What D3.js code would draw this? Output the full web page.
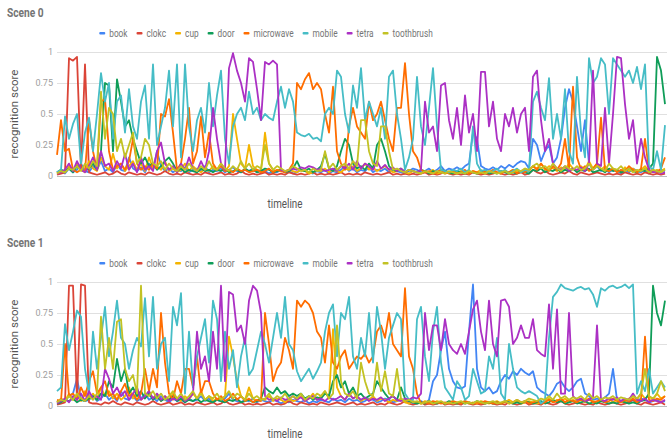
<!DOCTYPE html>
<html>
<head>
<meta charset="utf-8">
<script src="https://cdn.jsdelivr.net/npm/d3@7/dist/d3.min.js"></script>
<style>
  body { margin: 0; background: #fff; }
  text { font-family: Roboto, "Noto Sans", sans-serif; }
</style>
</head>
<body>
<div class="chart"></div>
<script>
// legend names and y ticks
var names = ["book", "clokc", "cup", "door", "microwave", "mobile", "tetra", "toothbrush"];
var yTicks = [0, 0.25, 0.5, 0.75, 1];
var sceneTitles = ["Scene 0", "Scene 1"];

// ---- Scene 0 ----
var s0Book = [0.03,0.04,0.02,0.06,0.03,0.05,0.1,0.04,0.03,0.08,
  0.05,0.12,0.04,0.06,0.03,0.09,0.05,0.04,0.15,0.06,
  0.04,0.07,0.03,0.1,0.05,0.2,0.08,0.04,0.06,0.03,
  0.05,0.04,0.07,0.03,0.05,0.06,0.04,0.08,0.03,0.05,
  0.04,0.06,0.03,0.05,0.07,0.04,0.03,0.05,0.04,0.06,
  0.03,0.05,0.04,0.02,0.04,0.03,0.05,0.03,0.04,0.02,
  0.03,0.05,0.04,0.03,0.02,0.04,0.03,0.05,0.02,0.04,
  0.03,0.05,0.08,0.04,0.06,0.03,0.05,0.04,0.07,0.03,
  0.05,0.04,0.06,0.03,0.05,0.04,0.03,0.02,0.04,0.06,
  0.05,0.03,0.04,0.06,0.03,0.05,0.08,0.04,0.06,0.05,
  0.07,0.05,0.08,0.1,0.35,0.3,0.08,0.06,0.05,0.07,
  0.05,0.08,0.06,0.09,0.07,0.1,0.12,0.11,0.06,0.3,
  0.25,0.12,0.2,0.25,0.1,0.15,0.3,0.55,0.7,0.6,
  0.4,0.2,0.45,0.1,0.05,0.08,0.04,0.06,0.03,0.05,
  0.04,0.02,0.05,0.03,0.06,0.04,0.03,0.05,0.02,0.04,
  0.03,0.05,0.04];
var s0Clokc = [0.01,0.02,0.03,0.95,0.93,0.96,0.05,0.9,0.03,0.02,
  0.01,0.02,0.03,0.01,0.02,0.04,0.02,0.01,0.03,0.02,
  0.01,0.02,0.01,0.03,0.02,0.01,0.02,0.04,0.02,0.01,
  0.02,0.01,0.03,0.02,0.01,0.02,0.01,0.03,0.02,0.01,
  0.02,0.03,0.01,0.02,0.01,0.02,0.04,0.02,0.01,0.02,
  0.01,0.02,0.03,0.01,0.02,0.01,0.02,0.01,0.03,0.02,
  0.01,0.02,0.01,0.02,0.03,0.01,0.02,0.01,0.02,0.01,
  0.02,0.03,0.01,0.02,0.01,0.02,0.01,0.03,0.02,0.01,
  0.02,0.01,0.02,0.03,0.01,0.02,0.01,0.02,0.01,0.02,
  0.01,0.02,0.03,0.01,0.02,0.01,0.02,0.04,0.02,0.01,
  0.02,0.01,0.02,0.01,0.03,0.02,0.01,0.02,0.01,0.02,
  0.03,0.02,0.01,0.02,0.01,0.02,0.03,0.01,0.02,0.05,
  0.03,0.02,0.04,0.02,0.01,0.02,0.03,0.02,0.04,0.02,
  0.01,0.03,0.02,0.01,0.02,0.03,0.02,0.01,0.02,0.01,
  0.02,0.01,0.03,0.02,0.01,0.02,0.01,0.03,0.02,0.01,
  0.02,0.01,0.02];
var s0Cup = [0.02,0.05,0.03,0.08,0.04,0.1,0.05,0.03,0.12,0.06,
  0.04,0.15,0.08,0.05,0.18,0.06,0.1,0.04,0.08,0.12,
  0.05,0.1,0.04,0.15,0.06,0.08,0.05,0.12,0.04,0.06,
  0.03,0.05,0.1,0.04,0.08,0.05,0.03,0.06,0.04,0.08,
  0.05,0.1,0.04,0.08,0.5,0.3,0.1,0.06,0.25,0.08,
  0.05,0.04,0.35,0.1,0.05,0.04,0.06,0.03,0.05,0.04,
  0.03,0.05,0.04,0.02,0.03,0.05,0.04,0.06,0.03,0.05,
  0.04,0.03,0.06,0.05,0.08,0.04,0.06,0.1,0.05,0.07,
  0.04,0.06,0.08,0.05,0.03,0.04,0.06,0.03,0.02,0.04,
  0.03,0.02,0.04,0.03,0.05,0.02,0.03,0.04,0.02,0.03,
  0.02,0.04,0.03,0.02,0.04,0.03,0.05,0.02,0.03,0.04,
  0.03,0.02,0.04,0.03,0.05,0.04,0.03,0.06,0.04,0.08,
  0.06,0.1,0.05,0.08,0.06,0.04,0.07,0.05,0.1,0.06,
  0.04,0.08,0.05,0.12,0.06,0.1,0.05,0.08,0.04,0.06,
  0.05,0.03,0.07,0.04,0.06,0.03,0.05,0.08,0.04,0.03,
  0.05,0.04,0.06];
var s0Door = [0.03,0.05,0.04,0.06,0.03,0.08,0.05,0.04,0.06,0.1,
  0.05,0.2,0.75,0.73,0.2,0.78,0.6,0.4,0.45,0.3,
  0.2,0.1,0.15,0.08,0.1,0.05,0.08,0.12,0.15,0.1,
  0.04,0.06,0.03,0.05,0.04,0.03,0.06,0.04,0.05,0.03,
  0.05,0.04,0.06,0.03,0.04,0.05,0.03,0.06,0.04,0.05,
  0.03,0.04,0.06,0.05,0.03,0.04,0.05,0.03,0.04,0.06,
  0.12,0.05,0.04,0.06,0.03,0.05,0.08,0.18,0.06,0.04,
  0.08,0.2,0.3,0.25,0.1,0.06,0.08,0.05,0.1,0.06,
  0.25,0.3,0.2,0.08,0.05,0.04,0.06,0.03,0.05,0.04,
  0.03,0.05,0.04,0.02,0.04,0.03,0.05,0.04,0.03,0.02,
  0.04,0.03,0.02,0.04,0.03,0.02,0.03,0.04,0.02,0.03,
  0.02,0.04,0.03,0.02,0.03,0.02,0.04,0.03,0.02,0.05,
  0.04,0.06,0.03,0.05,0.04,0.06,0.03,0.05,0.04,0.06,
  0.03,0.05,0.04,0.06,0.03,0.04,0.05,0.03,0.06,0.04,
  0.05,0.03,0.04,0.06,0.04,0.03,0.05,0.04,0.06,0.1,
  0.96,0.85,0.58];
var s0Microwave = [0.17,0.45,0.2,0.22,0.05,0.03,0.05,0.04,0.45,0.2,
  0.05,0.6,0.62,0.2,0.05,0.08,0.1,0.05,0.12,0.3,
  0.1,0.05,0.08,0.05,0.1,0.06,0.5,0.48,0.62,0.35,
  0.05,0.1,0.3,0.55,0.1,0.2,0.48,0.15,0.35,0.1,
  0.05,0.08,0.04,0.05,0.03,0.06,0.04,0.05,0.03,0.04,
  0.05,0.03,0.04,0.06,0.03,0.05,0.04,0.03,0.05,0.1,
  0.75,0.7,0.78,0.83,0.7,0.75,0.7,0.5,0.35,0.72,
  0.2,0.1,0.05,0.4,0.55,0.4,0.35,0.3,0.6,0.45,
  0.5,0.6,0.45,0.3,0.2,0.55,0.55,0.91,0.5,0.2,
  0.15,0.05,0.03,0.04,0.02,0.03,0.05,0.02,0.03,0.04,
  0.02,0.03,0.05,0.02,0.04,0.03,0.02,0.04,0.03,0.05,
  0.03,0.02,0.04,0.03,0.05,0.02,0.04,0.03,0.05,0.08,
  0.05,0.1,0.06,0.04,0.08,0.05,0.1,0.3,0.06,0.72,
  0.15,0.05,0.08,0.04,0.06,0.1,0.47,0.05,0.04,0.06,
  0.03,0.05,0.04,0.08,0.05,0.03,0.06,0.3,0.04,0.05,
  0.03,0.06,0.15];
var s0Mobile = [0.03,0.05,0.48,0.3,0.42,0.5,0.1,0.35,0.47,0.2,
  0.5,0.83,0.6,0.75,0.3,0.6,0.65,0.35,0.7,0.4,
  0.3,0.6,0.73,0.3,0.9,0.25,0.4,0.55,0.85,0.4,
  0.9,0.15,0.9,0.4,0.2,0.45,0.55,0.35,0.75,0.4,
  0.65,0.85,0.3,0.1,0.4,0.5,0.55,0.45,0.68,0.5,
  0.55,0.45,0.5,0.47,0.45,0.6,0.72,0.55,0.7,0.6,
  0.35,0.33,0.32,0.34,0.3,0.31,0.28,0.5,0.55,0.5,
  0.85,0.8,0.5,0.35,0.73,0.55,0.87,0.45,0.6,0.5,
  0.4,0.55,0.3,0.8,0.85,0.5,0.3,0.05,0.15,0.3,
  0.8,0.4,0.25,0.55,0.87,0.4,0.05,0.04,0.03,0.05,
  0.04,0.06,0.03,0.05,0.4,0.1,0.04,0.05,0.03,0.04,
  0.06,0.03,0.05,0.02,0.04,0.06,0.03,0.05,0.04,0.6,
  0.68,0.55,0.45,0.79,0.3,0.5,0.3,0.7,0.2,0.1,
  0.8,0.35,0.15,0.95,0.75,0.8,0.95,0.9,0.5,0.95,
  0.9,0.85,0.8,0.85,0.75,0.88,0.7,0.9,0.08,0.05,
  0.2,0.05,0.41];
var s0Tetra = [0.02,0.03,0.05,0.1,0.04,0.12,0.05,0.03,0.08,0.15,
  0.05,0.2,0.08,0.1,0.04,0.12,0.06,0.18,0.05,0.1,
  0.03,0.15,0.05,0.08,0.04,0.2,0.27,0.1,0.05,0.08,
  0.03,0.1,0.05,0.15,0.06,0.04,0.12,0.05,0.2,0.55,
  0.3,0.1,0.05,0.87,0.99,0.85,0.75,0.6,0.95,0.92,
  0.7,0.45,0.92,0.9,0.93,0.9,0.05,0.04,0.05,0.06,
  0.05,0.07,0.06,0.08,0.07,0.05,0.06,0.04,0.05,0.06,
  0.04,0.08,0.06,0.1,0.05,0.12,0.06,0.1,0.08,0.05,
  0.12,0.06,0.09,0.05,0.07,0.04,0.06,0.03,0.05,0.04,
  0.03,0.05,0.6,0.35,0.4,0.2,0.73,0.75,0.45,0.3,
  0.55,0.25,0.65,0.35,0.5,0.2,0.84,0.84,0.4,0.6,
  0.3,0.2,0.5,0.4,0.55,0.35,0.5,0.55,0.2,0.8,
  0.85,0.45,0.2,0.3,0.1,0.06,0.05,0.08,0.04,0.06,
  0.05,0.07,0.04,0.1,0.85,0.1,0.08,0.55,0.1,0.5,
  0.96,0.95,0.58,0.3,0.45,0.1,0.3,0.15,0.05,0.03,
  0.04,0.02,0.03];
var s0Toothbrush = [0.02,0.04,0.03,0.06,0.05,0.08,0.04,0.1,0.06,0.12,
  0.08,0.68,0.3,0.55,0.5,0.2,0.3,0.15,0.25,0.35,
  0.1,0.15,0.3,0.25,0.1,0.08,0.12,0.05,0.1,0.06,
  0.04,0.08,0.05,0.1,0.06,0.04,0.08,0.05,0.12,0.06,
  0.05,0.1,0.06,0.04,0.08,0.05,0.12,0.06,0.1,0.05,
  0.08,0.06,0.25,0.1,0.05,0.08,0.06,0.04,0.05,0.08,
  0.06,0.04,0.05,0.03,0.06,0.04,0.05,0.2,0.06,0.1,
  0.05,0.08,0.1,0.06,0.12,0.08,0.45,0.45,0.2,0.1,
  0.08,0.4,0.4,0.2,0.05,0.06,0.04,0.03,0.05,0.04,
  0.03,0.02,0.04,0.03,0.02,0.04,0.03,0.02,0.04,0.03,
  0.02,0.03,0.02,0.04,0.03,0.02,0.03,0.02,0.04,0.03,
  0.02,0.03,0.04,0.02,0.03,0.05,0.04,0.06,0.05,0.08,
  0.1,0.06,0.08,0.05,0.1,0.06,0.04,0.08,0.06,0.05,
  0.08,0.05,0.06,0.1,0.05,0.08,0.06,0.04,0.1,0.06,
  0.05,0.08,0.04,0.06,0.03,0.05,0.04,0.06,0.03,0.05,
  0.04,0.03,0.05];

// ---- Scene 1 ----
var s1Book = [0.03,0.05,0.04,0.08,0.1,0.22,0.06,0.04,0.05,0.08,
  0.04,0.06,0.1,0.05,0.08,0.04,0.12,0.06,0.05,0.08,
  0.04,0.06,0.1,0.05,0.07,0.04,0.08,0.05,0.03,0.06,
  0.04,0.05,0.03,0.06,0.04,0.05,0.08,0.04,0.06,0.03,
  0.05,0.04,0.06,0.1,0.05,0.04,0.03,0.05,0.04,0.06,
  0.03,0.05,0.04,0.03,0.05,0.04,0.02,0.04,0.03,0.05,
  0.04,0.03,0.05,0.02,0.04,0.03,0.05,0.04,0.03,0.06,
  0.04,0.05,0.03,0.06,0.04,0.05,0.03,0.04,0.06,0.05,
  0.03,0.04,0.06,0.05,0.03,0.04,0.05,0.03,0.04,0.02,
  0.03,0.04,0.02,0.05,0.2,0.25,0.45,0.6,0.3,0.2,
  0.15,0.14,0.16,0.6,0.98,0.3,0.15,0.12,0.15,0.1,
  0.12,0.2,0.25,0.22,0.28,0.25,0.3,0.27,0.25,0.28,
  0.15,0.12,0.1,0.08,0.12,0.18,0.2,0.15,0.12,0.15,
  0.2,0.22,0.1,0.08,0.05,0.06,0.05,0.07,0.1,0.3,
  0.05,0.04,0.06,0.03,0.05,0.04,0.06,0.05,0.03,0.04,
  0.05,0.03,0.04];
var s1Clokc = [0.01,0.02,0.03,0.97,0.97,0.05,0.98,0.97,0.03,0.02,
  0.02,0.01,0.03,0.02,0.04,0.02,0.01,0.03,0.02,0.01,
  0.03,0.02,0.01,0.02,0.04,0.02,0.01,0.02,0.03,0.01,
  0.02,0.03,0.01,0.02,0.01,0.03,0.02,0.01,0.02,0.03,
  0.01,0.02,0.04,0.02,0.01,0.02,0.03,0.01,0.02,0.01,
  0.02,0.01,0.02,0.03,0.01,0.02,0.01,0.02,0.04,0.02,
  0.01,0.03,0.02,0.01,0.02,0.01,0.03,0.02,0.01,0.02,
  0.03,0.02,0.01,0.02,0.03,0.01,0.02,0.01,0.02,0.03,
  0.01,0.02,0.01,0.03,0.02,0.01,0.02,0.04,0.02,0.01,
  0.02,0.03,0.01,0.02,0.01,0.02,0.03,0.01,0.02,0.01,
  0.02,0.01,0.03,0.02,0.01,0.02,0.01,0.02,0.03,0.02,
  0.01,0.02,0.01,0.03,0.02,0.01,0.02,0.03,0.01,0.02,
  0.02,0.01,0.03,0.02,0.01,0.02,0.04,0.02,0.01,0.02,
  0.03,0.02,0.01,0.02,0.01,0.03,0.02,0.01,0.02,0.03,
  0.02,0.01,0.02,0.03,0.05,0.02,0.01,0.03,0.02,0.01,
  0.02,0.03,0.01];
var s1Cup = [0.03,0.06,0.04,0.1,0.05,0.08,0.04,0.12,0.06,0.1,
  0.05,0.15,0.08,0.12,0.06,0.1,0.05,0.08,0.15,0.06,
  0.1,0.05,0.08,0.12,0.06,0.1,0.04,0.08,0.05,0.1,
  0.06,0.04,0.08,0.05,0.1,0.06,0.12,0.05,0.08,0.04,
  0.06,0.05,0.08,0.56,0.4,0.2,0.08,0.05,0.15,0.06,
  0.04,0.06,0.05,0.08,0.04,0.06,0.05,0.03,0.06,0.04,
  0.05,0.08,0.04,0.06,0.1,0.05,0.08,0.12,0.06,0.62,
  0.15,0.08,0.05,0.1,0.06,0.08,0.04,0.06,0.05,0.08,
  0.04,0.06,0.05,0.03,0.05,0.04,0.06,0.03,0.02,0.04,
  0.03,0.02,0.04,0.03,0.02,0.04,0.03,0.02,0.03,0.04,
  0.02,0.03,0.04,0.02,0.03,0.02,0.04,0.03,0.02,0.03,
  0.04,0.02,0.03,0.05,0.03,0.04,0.02,0.03,0.04,0.03,
  0.02,0.03,0.04,0.06,0.03,0.05,0.04,0.06,0.03,0.05,
  0.04,0.06,0.03,0.05,0.04,0.03,0.05,0.04,0.06,0.03,
  0.05,0.04,0.03,0.06,0.08,0.05,0.1,0.06,0.08,0.05,
  0.1,0.06,0.08];
var s1Door = [0.02,0.03,0.05,0.04,0.06,0.03,0.05,0.04,0.06,0.08,
  0.05,0.1,0.08,0.2,0.15,0.38,0.2,0.3,0.1,0.15,
  0.08,0.12,0.06,0.1,0.05,0.08,0.04,0.06,0.05,0.08,
  0.04,0.06,0.03,0.05,0.04,0.06,0.03,0.05,0.04,0.03,
  0.05,0.04,0.03,0.05,0.04,0.06,0.03,0.04,0.05,0.03,
  0.04,0.06,0.15,0.12,0.1,0.15,0.1,0.12,0.08,0.1,
  0.08,0.1,0.06,0.08,0.05,0.07,0.06,0.1,0.08,0.2,
  0.25,0.15,0.2,0.1,0.15,0.08,0.1,0.06,0.08,0.1,
  0.2,0.15,0.1,0.06,0.08,0.05,0.15,0.06,0.04,0.03,
  0.02,0.03,0.02,0.04,0.03,0.02,0.03,0.02,0.04,0.03,
  0.02,0.03,0.02,0.03,0.02,0.04,0.03,0.02,0.03,0.02,
  0.03,0.02,0.04,0.03,0.02,0.03,0.02,0.04,0.03,0.02,
  0.03,0.04,0.02,0.03,0.05,0.03,0.04,0.02,0.03,0.04,
  0.02,0.03,0.04,0.02,0.03,0.02,0.04,0.03,0.02,0.03,
  0.02,0.04,0.03,0.02,0.03,0.02,0.04,0.05,0.1,0.97,
  0.75,0.65,0.85];
var s1Microwave = [0.05,0.04,0.5,0.08,0.1,0.05,0.15,0.08,0.2,0.28,
  0.1,0.15,0.2,0.08,0.1,0.05,0.12,0.18,0.08,0.1,
  0.05,0.1,0.3,0.12,0.3,0.15,0.75,0.35,0.1,0.05,
  0.2,0.1,0.3,0.3,0.15,0.4,0.1,0.2,0.2,0.1,
  0.05,0.08,0.04,0.06,0.1,0.05,0.08,0.04,0.06,0.03,
  0.05,0.04,0.75,0.5,0.2,0.3,0.35,0.55,0.45,0.3,
  0.85,0.8,0.85,0.82,0.75,0.6,0.55,0.35,0.65,0.35,
  0.3,0.4,0.45,0.3,0.35,0.4,0.38,0.42,0.35,0.4,
  0.6,0.65,0.55,0.75,0.5,0.45,0.4,0.95,0.4,0.3,
  0.1,0.02,0.03,0.02,0.04,0.03,0.02,0.03,0.02,0.04,
  0.03,0.02,0.04,0.03,0.02,0.03,0.02,0.04,0.03,0.02,
  0.03,0.02,0.04,0.02,0.03,0.05,0.03,0.04,0.02,0.03,
  0.04,0.02,0.03,0.05,0.03,0.04,0.06,0.03,0.05,0.04,
  0.03,0.05,0.04,0.06,0.03,0.04,0.05,0.03,0.04,0.06,
  0.04,0.03,0.05,0.04,0.06,0.03,0.05,0.56,0.05,0.04,
  0.06,0.05,0.08];
var s1Mobile = [0.12,0.15,0.66,0.45,0.6,0.77,0.72,0.3,0.1,0.6,
  0.3,0.55,0.8,0.4,0.6,0.85,0.55,0.5,0.3,0.45,
  0.55,0.48,0.87,0.4,0.88,0.3,0.5,0.55,0.2,0.8,
  0.65,0.91,0.1,0.6,0.15,0.4,0.55,0.7,0.35,0.85,
  0.7,0.2,0.6,0.3,0.45,0.15,0.4,0.55,0.25,0.3,
  0.45,0.6,0.5,0.35,0.55,0.75,0.55,0.88,0.5,0.45,
  0.28,0.2,0.25,0.3,0.22,0.28,0.35,0.6,0.75,0.82,
  0.4,0.75,0.7,0.88,0.4,0.3,0.55,0.4,0.75,0.35,
  0.8,0.6,0.3,0.55,0.65,0.75,0.7,0.1,0.05,0.05,
  0.7,0.8,0.4,0.2,0.6,0.8,0.35,0.15,0.1,0.05,
  0.2,0.15,0.05,0.08,0.3,0.2,0.1,0.12,0.4,0.3,
  0.55,0.1,0.05,0.5,0.3,0.15,0.12,0.1,0.12,0.1,
  0.08,0.02,0.05,0.55,0.88,0.92,0.98,0.95,0.94,0.93,
  0.95,0.96,0.94,0.95,0.9,0.8,0.95,0.93,0.96,0.97,
  0.95,0.96,0.98,0.95,0.98,0.1,0.2,0.12,0.3,0.1,
  0.15,0.2,0.15];
var s1Tetra = [0.02,0.04,0.06,0.03,0.08,0.05,0.1,0.04,0.12,0.06,
  0.08,0.05,0.3,0.22,0.1,0.15,0.08,0.12,0.05,0.1,
  0.15,0.05,0.08,0.12,0.06,0.1,0.05,0.08,0.04,0.06,
  0.05,0.08,0.04,0.06,0.1,0.6,0.3,0.4,0.2,0.6,
  0.3,0.97,0.2,0.92,0.9,0.6,0.65,0.5,0.85,0.97,
  0.93,0.75,0.08,0.05,0.06,0.04,0.07,0.05,0.06,0.08,
  0.05,0.07,0.04,0.06,0.08,0.05,0.06,0.04,0.07,0.05,
  0.06,0.08,0.05,0.1,0.06,0.08,0.05,0.07,0.04,0.06,
  0.05,0.07,0.04,0.06,0.08,0.05,0.04,0.06,0.05,0.07,
  0.06,0.1,0.75,0.45,0.65,0.65,0.45,0.7,0.5,0.45,
  0.42,0.5,0.42,0.6,0.78,0.85,0.6,0.45,0.85,0.5,
  0.4,0.85,0.86,0.8,0.5,0.55,0.65,0.55,0.55,0.7,
  0.45,0.42,0.4,0.82,0.3,0.78,0.1,0.1,0.75,0.08,
  0.05,0.06,0.04,0.05,0.07,0.65,0.05,0.04,0.06,0.05,
  0.07,0.04,0.06,0.05,0.1,0.05,0.04,0.06,0.03,0.05,
  0.04,0.03,0.05];
var s1Toothbrush = [0.03,0.05,0.04,0.08,0.05,0.1,0.06,0.04,0.08,0.05,
  0.1,0.72,0.3,0.55,0.3,0.68,0.7,0.3,0.2,0.25,
  0.1,0.97,0.1,0.08,0.12,0.06,0.1,0.05,0.08,0.12,
  0.06,0.1,0.05,0.08,0.12,0.06,0.1,0.05,0.08,0.06,
  0.1,0.05,0.08,0.12,0.06,0.1,0.08,0.05,0.1,0.06,
  0.08,0.05,0.06,0.1,0.05,0.08,0.06,0.1,0.05,0.08,
  0.06,0.1,0.05,0.08,0.06,0.1,0.08,0.12,0.06,0.1,
  0.65,0.2,0.1,0.08,0.12,0.06,0.35,0.2,0.1,0.08,
  0.35,0.12,0.28,0.1,0.08,0.3,0.06,0.04,0.05,0.03,
  0.04,0.02,0.03,0.04,0.02,0.03,0.04,0.02,0.03,0.02,
  0.03,0.04,0.02,0.03,0.02,0.04,0.03,0.02,0.03,0.04,
  0.02,0.03,0.04,0.02,0.03,0.05,0.03,0.04,0.06,0.05,
  0.04,0.06,0.05,0.08,0.05,0.1,0.06,0.08,0.05,0.07,
  0.06,0.08,0.05,0.1,0.06,0.08,0.05,0.07,0.06,0.08,
  0.05,0.07,0.06,0.05,0.08,0.06,0.1,0.3,0.08,0.06,
  0.1,0.2,0.12];

var scenes = [
  [s0Book, s0Clokc, s0Cup, s0Door, s0Microwave, s0Mobile, s0Tetra, s0Toothbrush],
  [s1Book, s1Clokc, s1Cup, s1Door, s1Microwave, s1Mobile, s1Tetra, s1Toothbrush]
];

var colors = ["#4285f4", "#db4437", "#f4b400", "#0f9d58", "#ff6d00", "#46bdc6", "#ab30c4", "#c2c224"];

var width = 667,
    height = 441,
    left = 57,
    right = 665,
    panelH = 230;

var svg = d3.select('.chart').append('svg').attr('width', width).attr('height', height);

//x runs over the sample index
var x = d3.scaleLinear().domain([0, s0Book.length - 1]).range([left, right]);

function drawScene(k) {
  var top = k * panelH;
  var g = svg.append('g').attr('transform', 'translate(0,' + top + ')');
  var y = d3.scaleLinear().domain([0, 1]).range([176, 52]);

  //title
  g.append('text').attr('x', 7).attr('y', 17)
    .attr('transform', 'translate(7,0) scale(0.85,1) translate(-7,0)')
    .style('font-size', '12px').style('font-weight', 'bold').style('fill', '#757575')
    .text(sceneTitles[k]);

  //legend, laid out from measured text widths
  var leg = g.append('g');
  var pos = 0, sx = 0.72;
  names.forEach(function (n, i) {
    leg.append('rect').attr('x', pos).attr('y', 32).attr('width', 6).attr('height', 2.5)
      .attr('rx', 1).style('fill', colors[i]);
    var t = leg.append('text').attr('y', 37.5)
      .attr('transform', 'translate(' + (pos + 10) + ',0) scale(' + sx + ',1)')
      .style('font-size', '11.5px').style('fill', '#757575').text(n);
    pos += 10 + t.node().getComputedTextLength() * sx + 9;
  });
  pos -= 9;
  leg.attr('transform', 'translate(' + (266 - pos / 2) + ',0)');

  //grid + y axis
  var yAxis = d3.axisLeft(y).tickValues(yTicks).tickSize(-(width - left)).tickPadding(4)
    .tickFormat(function (d) { return String(d); });
  var ax = g.append('g').attr('transform', 'translate(' + left + ',0)').call(yAxis);
  ax.select('.domain').remove();
  ax.selectAll('.tick line').style('stroke', function (d) { return d === 0 ? '#bdbdbd' : '#e0e0e0'; });
  ax.selectAll('.tick text').style('font-size', '9px').style('fill', '#9e9e9e')
    .style('font-family', 'Roboto, sans-serif');

  //axis titles
  g.append('text').attr('transform', 'translate(18,114) rotate(-90)')
    .attr('text-anchor', 'middle').style('font-size', '11.5px').style('fill', '#555')
    .text('recognition score');
  g.append('text').attr('text-anchor', 'middle')
    .attr('transform', 'translate(285,208) scale(0.82,1)')
    .style('font-size', '12px').style('fill', '#555').text('timeline');

  //one line per object
  var line = d3.line().x(function (d, i) { return x(i); }).y(function (d) { return y(d); });
  scenes[k].forEach(function (vals, i) {
    g.append('path').datum(vals).attr('d', line)
      .style('fill', 'none').style('stroke', colors[i]).style('stroke-width', 1.8)
      .style('stroke-linejoin', 'round');
  });
}

drawScene(0);
drawScene(1);
</script>
</body>
</html>
